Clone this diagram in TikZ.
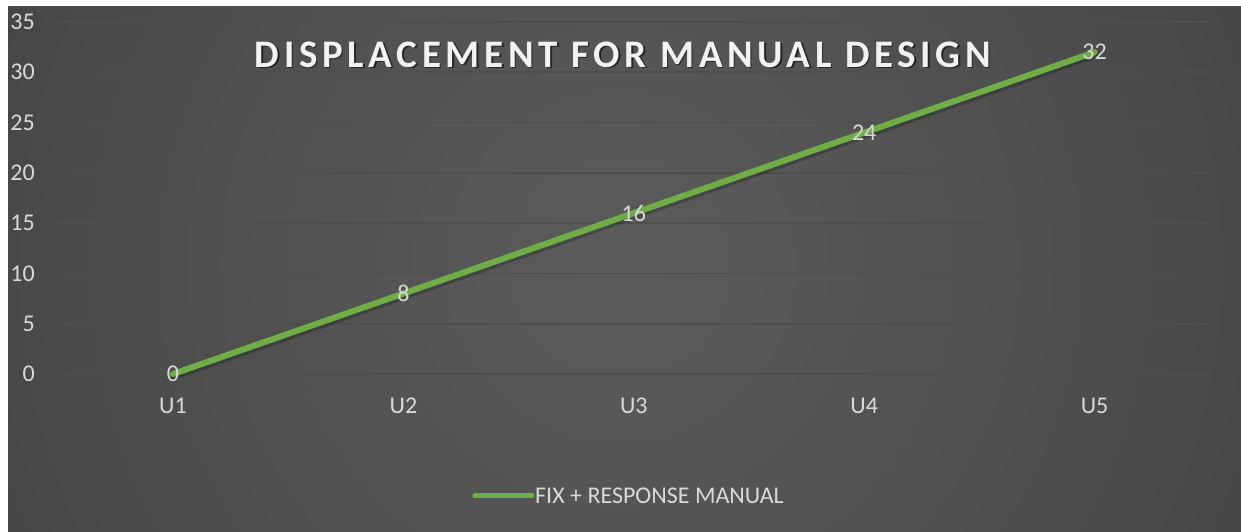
\documentclass[tikz,border=0pt]{standalone}
\usepackage{fontspec}
\setmainfont{Carlito}
\newfontfamily\titlefont[LetterSpace=12]{Carlito}
\definecolor{bgA}{HTML}{5C5C5C}
\definecolor{bgB}{HTML}{4B4B4B}
\definecolor{bgC}{HTML}{2E2E2E}
\definecolor{bgD}{HTML}{252525}
\definecolor{gridc}{HTML}{4E4E4E}
\definecolor{txt}{HTML}{D9D9D9}
\definecolor{titlec}{HTML}{F2F2F2}
\definecolor{series}{HTML}{70AD47}
\pgfdeclareradialshading{chartbg}{\pgfpoint{0bp}{0bp}}{color(0bp)=(bgA); color(20bp)=(bgB); color(45bp)=(bgC); color(50bp)=(bgD)}
\tikzset{
  axislabel/.style={text=txt, font=\fontsize{24}{28}\selectfont, inner sep=0pt},
  dlabel/.style={text=txt, font=\fontsize{24}{28}\selectfont, inner sep=0pt},
  gridline/.style={draw=gridc, line width=1.6pt},
  seriesline/.style={draw=series, line width=6pt, line cap=round, line join=round},
  shadowline/.style={draw=black, line width=7pt, line cap=round, line join=round, opacity=0.22},
}
\begin{document}
\begin{tikzpicture}[x=1pt,y=1pt]
\useasboundingbox (0,0) rectangle (1241,531);
\fill[white] (0,0) rectangle (1241,531);
\begin{scope}
  \clip (8,0) rectangle (1241,524);
  \shade[shading=chartbg] (620,265) circle (680);
\end{scope}
% gridlines and y labels
\foreach \v [count=\i from 0] in {0,5,10,15,20,25,30,35} {
  \coordinate (gl\i) at (58,{157+10.057*\v});
  \coordinate (gr\i) at (1208,{157+10.057*\v});
  \draw[gridline] (gl\i) -- (gr\i);
  \node[axislabel, anchor=east] (yl\i) at (35,{157+10.057*\v}) {\v};
}
% categories
\foreach \c [count=\i] in {U1,U2,U3,U4,U5} {
  \node[axislabel] (cat\i) at ({173+230.4*(\i-1)},125) {\c};
}
% data points
\coordinate (p1) at (173,157);
\coordinate (p2) at (403.4,237.46);
\coordinate (p3) at (633.8,317.91);
\coordinate (p4) at (864.2,398.37);
\coordinate (p5) at (1094.6,478.82);
\draw[shadowline] ([shift={(1,-2.5)}]p1) -- ([shift={(1,-2.5)}]p2) -- ([shift={(1,-2.5)}]p3) -- ([shift={(1,-2.5)}]p4) -- ([shift={(1,-2.5)}]p5);
\draw[seriesline] (p1) -- (p2) -- (p3) -- (p4) -- (p5);
\node[dlabel] (d1) at (p1) {0};
\node[dlabel] (d2) at (p2) {8};
\node[dlabel] (d3) at (p3) {16};
\node[dlabel] (d4) at (p4) {24};
\node[dlabel] (d5) at (p5) {32};
% title
\node[anchor=base, text=black, opacity=0.55, inner sep=0pt, font=\titlefont\bfseries\fontsize{39}{46}\selectfont] (titleshadow) at (624.5,462) {DISPLACEMENT FOR MANUAL DESIGN};
\node[anchor=base, text=titlec, inner sep=0pt, font=\titlefont\bfseries\fontsize{39}{46}\selectfont] (title) at (623,463.7) {DISPLACEMENT FOR MANUAL DESIGN};
% legend
\coordinate (lga) at (475,35.4);
\coordinate (lgb) at (532,35.4);
\draw[draw=series, line width=5pt, line cap=round] (lga) -- (lgb);
\node[axislabel, anchor=west] (legend) at (535,35.4) {FIX + RESPONSE MANUAL};
\end{tikzpicture}
\end{document}
